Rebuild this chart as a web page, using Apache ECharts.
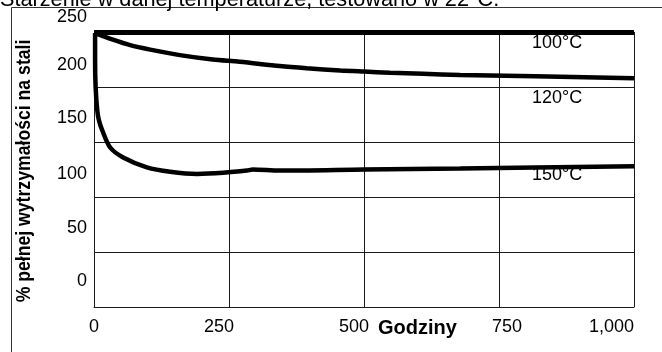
<!DOCTYPE html>
<html>
<head>
<meta charset="utf-8">
<script src="https://cdn.jsdelivr.net/npm/echarts@6/dist/echarts.min.js"></script>
<style>
html,body{margin:0;padding:0;background:#fff;}
#c{width:662px;height:352px;}
</style>
</head>
<body>
<div id="c"></div>
<script>
// ---- data ----
const titleText = 'Starzenie w danej temperaturze, testowano w 22°C.';
const yAxisTitle = '% pełnej wytrzymałości na stali';
const xAxisTitle = 'Godziny';
const xTickLabels = ['0', '250', '500', '750', '1,000'];
const yTickLabels = ['250', '200', '150', '100', '50', '0'];
const seriesNames = ['100°C', '120°C', '150°C'];

const x100 = [0, 1000];
const y100 = [249.5, 249.5];

const x120 = [2, 35, 67, 104, 159, 220, 270, 344, 394, 456, 500, 548, 609, 678, 1000];
const y120 = [249, 243, 238, 234, 229, 225, 223, 219, 217, 215, 214, 213, 212, 211, 208];

const x150 = [2, 2, 3, 6, 9, 15, 30, 54, 98, 141, 191, 239, 283, 294, 344, 500, 678, 1000];
const y150 = [249, 225, 200, 179, 170, 161, 145, 136, 127, 123, 121, 122, 124, 125, 124, 125, 126, 128];

// ---- layout (pixel positions of free texts) ----
const xTickPos = [[94, 'center'], [219, 'center'], [354, 'center'], [507, 'center'], [634, 'right']];
const xTickY = 336;
const yTickPos = [17, 65, 118, 174, 228, 281];
const yTickRight = 87;
const seriesLabelPos = [[532, 43], [532, 98], [532, 175]];

const pair = (xs, ys) => xs.map((x, i) => [x, ys[i]]);
const FONT = '"Liberation Sans", Arial, sans-serif';
const GRID = '#1a1a1a';

const graphics = [];
graphics.push({type: 'rect', z: 0, shape: {x: 11.5, y: 7.5, width: 700, height: 400},
  style: {fill: null, stroke: '#333', lineWidth: 1}});
graphics.push({type: 'text', z: 1, x: 0, y: -11,
  style: {text: titleText, font: '21.7px ' + FONT, fill: '#000', textAlign: 'left', textVerticalAlign: 'top'}});
xTickLabels.forEach((t, i) => graphics.push({type: 'text', z: 1, x: xTickPos[i][0], y: xTickY,
  style: {text: t, font: '18px ' + FONT, fill: '#000', textAlign: xTickPos[i][1], textVerticalAlign: 'bottom'}}));
graphics.push({type: 'text', z: 1, x: 378, y: 338,
  style: {text: xAxisTitle, font: 'bold 20px ' + FONT, fill: '#000', textAlign: 'left', textVerticalAlign: 'bottom'}});
yTickLabels.forEach((t, i) => graphics.push({type: 'text', z: 1, x: yTickRight, y: yTickPos[i],
  style: {text: t, font: '18px ' + FONT, fill: '#000', textAlign: 'right', textVerticalAlign: 'middle'}}));
graphics.push({type: 'text', z: 1, x: 24, y: 171, rotation: Math.PI / 2, scaleX: 0.84,
  style: {text: yAxisTitle, font: 'bold 21px ' + FONT, fill: '#000', textAlign: 'center', textVerticalAlign: 'middle'}});
seriesNames.forEach((t, i) => graphics.push({type: 'text', z: 1, x: seriesLabelPos[i][0], y: seriesLabelPos[i][1],
  style: {text: t, font: '18px ' + FONT, fill: '#000', textAlign: 'left', textVerticalAlign: 'middle'}}));

const lineSeries = (name, data, w) => ({
  name, type: 'line', data, z: 10, clip: false, showSymbol: false, symbol: 'none',
  smooth: 0.3, lineStyle: {color: '#000', width: w}, emphasis: {disabled: true}
});

const chart = echarts.init(document.getElementById('c'), null, {renderer: 'canvas'});
chart.setOption({
  animation: false,
  backgroundColor: '#fff',
  grid: {left: 94, top: 32, width: 540, height: 275, containLabel: false},
  xAxis: {type: 'value', min: 0, max: 1000, interval: 250,
    axisLine: {show: true, lineStyle: {color: GRID, width: 1}},
    axisTick: {show: false}, axisLabel: {show: false},
    splitLine: {show: true, lineStyle: {color: GRID, width: 1}}},
  yAxis: {type: 'value', min: 0, max: 250, interval: 50,
    axisLine: {show: true, lineStyle: {color: GRID, width: 1}},
    axisTick: {show: false}, axisLabel: {show: false},
    splitLine: {show: true, lineStyle: {color: GRID, width: 1}}},
  series: [
    lineSeries(seriesNames[0], pair(x100, y100), 5),
    lineSeries(seriesNames[1], pair(x120, y120), 4.5),
    lineSeries(seriesNames[2], pair(x150, y150), 4.5)
  ],
  graphic: graphics
});
</script>
</body>
</html>
